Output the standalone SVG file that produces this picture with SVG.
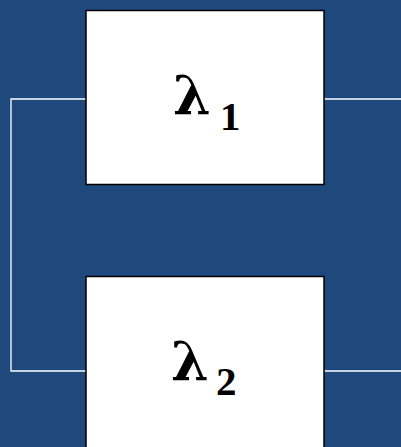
<svg xmlns="http://www.w3.org/2000/svg" width="401" height="447" viewBox="0 0 401 447">
<style>
.box{fill:#fff;stroke:#000;stroke-width:1.5}
.wire{fill:none;stroke:#fff;stroke-width:1.3}
.lam{font-family:"DejaVu Serif",serif;font-weight:bold;font-size:54px;fill:#000}
.sub{font-family:"Liberation Serif",serif;font-weight:bold;font-size:41px;fill:#000}
</style>
<rect width="401" height="447" fill="#1F497D"/>
<g id="connectors">
<polyline class="wire" points="86,99 11,99 11,371 86,371"/>
<line class="wire" x1="324" y1="99" x2="401" y2="99"/>
<line class="wire" x1="324" y1="371" x2="401" y2="371"/>
</g>
<g id="node1">
<rect class="box" x="86" y="10.5" width="238" height="174"/>
<text class="lam" x="173" y="115">λ</text>
<text class="sub" x="220" y="130">1</text>
</g>
<g id="node2">
<rect class="box" x="86" y="276.5" width="238" height="180"/>
<text class="lam" x="171" y="381">λ</text>
<text class="sub" x="216" y="395">2</text>
</g>
</svg>
